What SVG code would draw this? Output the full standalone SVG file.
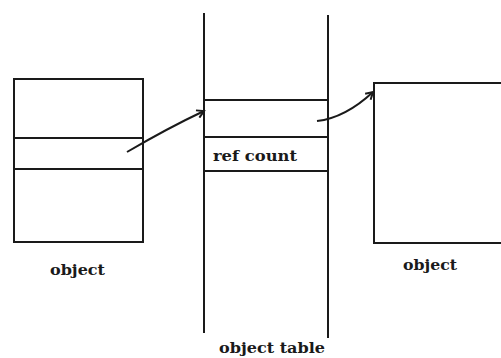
<svg xmlns="http://www.w3.org/2000/svg" width="501" height="358" viewBox="0 0 501 358">
<defs>
<style>
.ln{stroke:#1a1a1a;stroke-width:2;fill:none}
.t{font-family:"DejaVu Serif","Liberation Serif",serif;font-size:15px;fill:#1a1a1a;font-weight:bold}
</style>
<marker id="ah" markerWidth="10" markerHeight="10" refX="8" refY="5" orient="auto" markerUnits="userSpaceOnUse">
<path d="M1,1 L8,5 L1,9" class="ln" stroke-width="1.8"/>
</marker>
</defs>
<rect width="501" height="358" fill="#fff"/>
<g id="object-left">
<rect x="14" y="79" width="129" height="163" class="ln"/>
<line x1="14" y1="138" x2="143" y2="138" class="ln"/>
<line x1="14" y1="169" x2="143" y2="169" class="ln"/>
<text x="50" y="275" class="t" textLength="55" lengthAdjust="spacingAndGlyphs">object</text>
</g>
<g id="object-table">
<line x1="204" y1="13" x2="204" y2="333" class="ln"/>
<line x1="328" y1="15" x2="328" y2="338" class="ln"/>
<line x1="204" y1="100" x2="328" y2="100" class="ln"/>
<line x1="204" y1="137" x2="328" y2="137" class="ln"/>
<line x1="204" y1="171" x2="328" y2="171" class="ln"/>
<text x="213" y="161" class="t" textLength="84" lengthAdjust="spacingAndGlyphs">ref count</text>
<text x="219" y="353" class="t" textLength="106" lengthAdjust="spacingAndGlyphs">object table</text>
</g>
<g id="object-right">
<polyline points="502,83 374,83 374,243 502,243" class="ln"/>
<text x="403" y="270" class="t" textLength="54" lengthAdjust="spacingAndGlyphs">object</text>
</g>
<g id="connectors">
<path d="M127,152 Q168,128 204,111" class="ln" marker-end="url(#ah)"/>
<path d="M317,121 Q345,118 373,92" class="ln" marker-end="url(#ah)"/>
</g>
</svg>
